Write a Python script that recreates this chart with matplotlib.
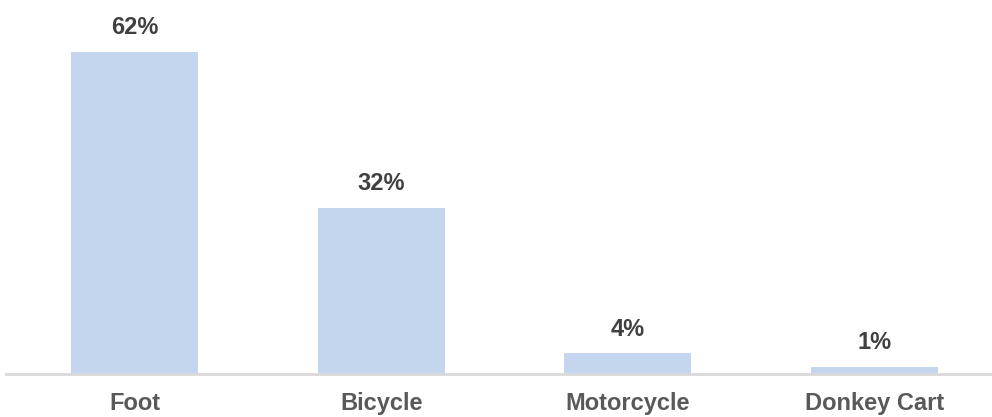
import matplotlib.pyplot as plt

# Data
modes = ['Foot', 'Bicycle', 'Motorcycle', 'Donkey Cart']
shares = [62, 32, 4, 1.4]

plt.rcParams['font.family'] = ['Liberation Sans', 'DejaVu Sans']

fig = plt.figure(figsize=(9.92, 4.17), dpi=100)
ax = fig.add_axes([6 / 992, 43 / 417, 986 / 992, 374 / 417])

x = range(len(modes))
bars = ax.bar(x, shares, width=0.515, color='#c3d6ee', zorder=2)

for b, v in zip(bars, shares):
    ax.annotate(f'{v:.0f}%', (b.get_x() + b.get_width() / 2, v),
                xytext=(0, 9), textcoords='offset points',
                ha='center', va='bottom', fontsize=17, fontweight='bold',
                color='#404040')

ax.set_xlim(-0.521, 3.476)
ax.set_ylim(0, 72)
ax.set_xticks(list(x))
ax.set_xticklabels(modes, fontsize=17, fontweight='bold', color='#595959')
ax.tick_params(axis='x', length=0, pad=13)
ax.set_yticks([])
for s in ['top', 'right', 'left']:
    ax.spines[s].set_visible(False)
ax.spines['bottom'].set_color('#d9d9d9')
ax.spines['bottom'].set_linewidth(2)

fig.savefig('out.png', dpi=100)
